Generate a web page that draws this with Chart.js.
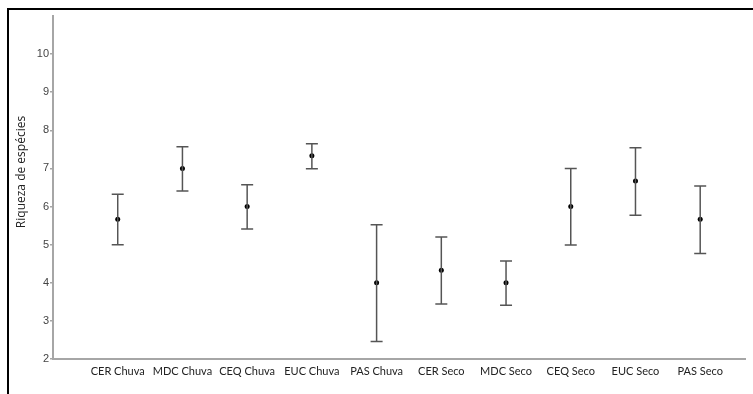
<!DOCTYPE html>
<html>
<head>
<meta charset="utf-8">
<script src="https://cdn.jsdelivr.net/npm/chart.js@4.4.1/dist/chart.umd.min.js"></script>
<style>
    html, body { margin: 0; padding: 0; background: #fff; }
    #wrap { position: relative; width: 753px; height: 394px; overflow: hidden; }
    #frame {
        position: absolute; left: 7px; top: 8px; right: -4px; bottom: -4px;
        border-top: 2px solid #000; border-left: 2px solid #000;
        pointer-events: none;
    }
    canvas { position: absolute; left: 0; top: 0; }
</style>
</head>
<body>
<div id="wrap">
    <canvas id="chart" width="753" height="394"></canvas>
    <div id="frame"></div>
</div>
<script>
// Data (mean and error bar limits)
const categories = ['CER Chuva', 'MDC Chuva', 'CEQ Chuva', 'EUC Chuva', 'PAS Chuva',
                    'CER Seco', 'MDC Seco', 'CEQ Seco', 'EUC Seco', 'PAS Seco'];
const means = [5.67, 7.0, 6.0, 7.33, 4.0, 4.33, 4.0, 6.0, 6.67, 5.67];
const upper = [6.32, 7.57, 6.57, 7.65, 5.52, 5.2, 4.57, 7.0, 7.54, 6.54];
const lower = [5.0, 6.41, 5.41, 6.99, 2.46, 3.44, 3.41, 4.99, 5.77, 4.77];
const yTicks = [2, 3, 4, 5, 6, 7, 8, 9, 10];
const yTitle = 'Riqueza de espécies';

const whiskerColor = '#555555';
const axisColor = '#a6a6a6';

// vertical whiskers as broken line segments
const whiskers = [];
categories.forEach((c, i) => {
    whiskers.push({ x: i + 1, y: lower[i] });
    whiskers.push({ x: i + 1, y: upper[i] });
    whiskers.push({ x: i + 1, y: null });
});
const caps = [];
categories.forEach((c, i) => {
    caps.push({ x: i + 1, y: lower[i] });
    caps.push({ x: i + 1, y: upper[i] });
});
const points = means.map((m, i) => ({ x: i + 1, y: m }));

// y axis title, placed a bit above the axis centre like the original
const yTitlePlugin = {
    id: 'yTitle',
    afterDraw(chart) {
        const ctx = chart.ctx;
        ctx.save();
        ctx.translate(22, 172);
        ctx.rotate(-Math.PI / 2);
        ctx.fillStyle = '#222';
        ctx.font = '12px "Open Sans"';
        ctx.textAlign = 'center';
        ctx.textBaseline = 'middle';
        ctx.fillText(yTitle, 0, 0);
        ctx.restore();
    }
};

new Chart(document.getElementById('chart'), {
    type: 'scatter',
    data: {
        datasets: [
            {
                data: whiskers,
                showLine: true,
                spanGaps: false,
                borderColor: whiskerColor,
                borderWidth: 1.5,
                pointRadius: 0
            },
            {
                data: caps,
                pointStyle: 'line',
                pointRadius: 6,
                borderColor: whiskerColor,
                borderWidth: 1.5
            },
            {
                data: points,
                pointStyle: 'circle',
                pointRadius: 2.5,
                backgroundColor: '#000',
                borderColor: '#000',
                borderWidth: 0
            }
        ]
    },
    options: {
        responsive: false,
        animation: false,
        layout: { padding: { top: 16, right: 4, left: 0, bottom: 0 } },
        plugins: {
            legend: { display: false },
            tooltip: { enabled: false }
        },
        scales: {
            x: {
                type: 'linear',
                min: 0,
                max: 10.7,
                afterBuildTicks: function(scale) {
                    scale.ticks = categories.map((c, i) => ({ value: i + 1 }));
                },
                afterFit: function(scale) { scale.height = 35; },
                grid: { display: false, drawTicks: false },
                border: { display: true, color: axisColor, width: 2 },
                ticks: {
                    padding: 6,
                    maxRotation: 0,
                    autoSkip: false,
                    color: '#222',
                    font: { family: 'Lato', size: 11 },
                    callback: function(value) {
                        return categories[Math.round(value) - 1] || '';
                    }
                }
            },
            y: {
                min: 2,
                max: 11,
                afterBuildTicks: function(scale) {
                    scale.ticks = yTicks.map(v => ({ value: v }));
                },
                afterFit: function(scale) { scale.width = 53; },
                grid: {
                    display: true,
                    drawOnChartArea: false,
                    drawTicks: true,
                    tickLength: 3,
                    color: axisColor,
                    lineWidth: 1.5
                },
                border: { display: true, color: axisColor, width: 2 },
                ticks: {
                    padding: 1,
                    color: '#444',
                    font: { family: 'Liberation Sans', size: 11 }
                }
            }
        }
    },
    plugins: [yTitlePlugin]
});
</script>
</body>
</html>
